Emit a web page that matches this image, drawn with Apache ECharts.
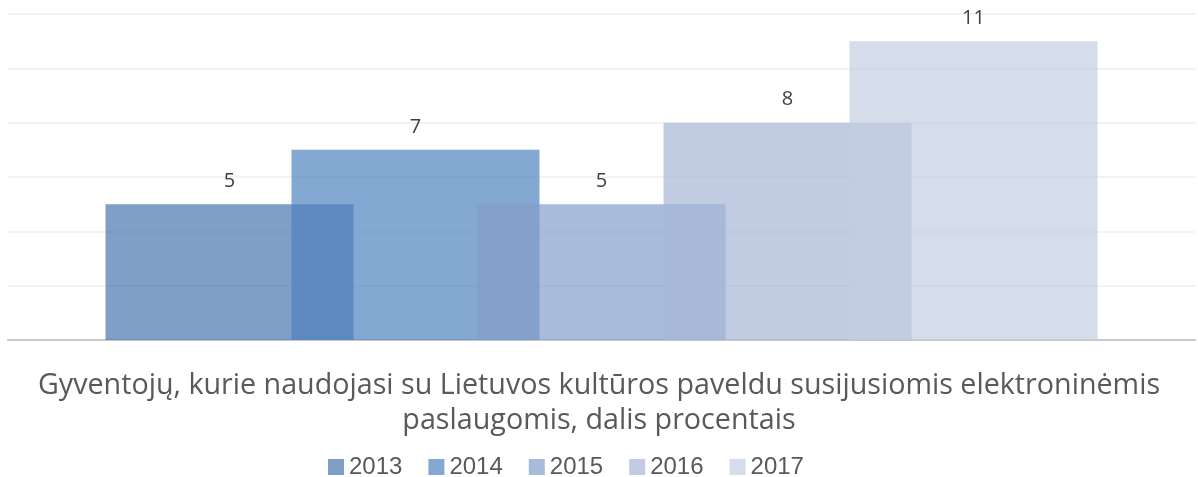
<!DOCTYPE html>
<html>
<head>
    <meta charset="utf-8">
    <title>Kultūros paveldas</title>
    <script src="https://cdn.jsdelivr.net/npm/echarts@6/dist/echarts.min.js"></script>
    <style>
        body { margin: 0; background: #fff; }
    </style>
</head>
<body>
<div id="main" style="width: 1198px;height:477px;"></div>

<script type="text/javascript">
    // duomenys
    var years = ['2013', '2014', '2015', '2016', '2017'];
    var values = [5, 7, 5, 8, 11];
    var colors = ['rgba(72,118,174,0.7)', 'rgba(79,131,191,0.7)', 'rgba(132,158,204,0.7)',
                  'rgba(166,182,215,0.7)', 'rgba(195,205,225,0.7)'];
    var categories = [''];
    var titleText = 'Gyventojų, kurie naudojasi su Lietuvos kultūros paveldu susijusiomis elektroninėmis\npaslaugomis, dalis procentais';

    var myChart = echarts.init(document.getElementById('main'));

    var series = [];
    for (var i = 0; i < years.length; i++) {
        series.push({
            name: years[i],
            type: 'bar',
            data: [values[i]],
            barWidth: 248,
            barGap: '-25%',
            itemStyle: { color: colors[i] },
            label: {
                show: true,
                position: 'top',
                distance: 13,
                color: '#404040',
                fontSize: 20,
                fontFamily: 'Open Sans'
            }
        });
    }

    myChart.setOption({
        animation: false,
        color: colors,
        title: {
            text: titleText,
            left: 'center',
            top: 363,
            textStyle: {
                color: '#595959',
                fontSize: 28.7,
                fontWeight: 'normal',
                fontFamily: 'Open Sans',
                lineHeight: 35
            }
        },
        legend: {
            data: years,
            top: 450,
            left: 323,
            itemWidth: 16,
            itemHeight: 16,
            itemGap: 26,
            icon: 'rect',
            textStyle: {
                color: '#595959',
                fontSize: 24,
                fontFamily: 'Liberation Sans'
            }
        },
        grid: {
            left: 8,
            right: 3,
            top: 14,
            bottom: 137
        },
        xAxis: {
            type: 'category',
            data: categories,
            axisTick: { show: false },
            axisLabel: { show: false },
            axisLine: { lineStyle: { color: '#c8c8c8', width: 2 } }
        },
        yAxis: {
            type: 'value',
            min: 0,
            max: 12,
            interval: 2,
            axisLabel: { show: false },
            axisLine: { show: false },
            axisTick: { show: false },
            splitLine: { lineStyle: { color: '#efefef', width: 1.5 } }
        },
        series: series
    });
</script>

</body>
</html>
